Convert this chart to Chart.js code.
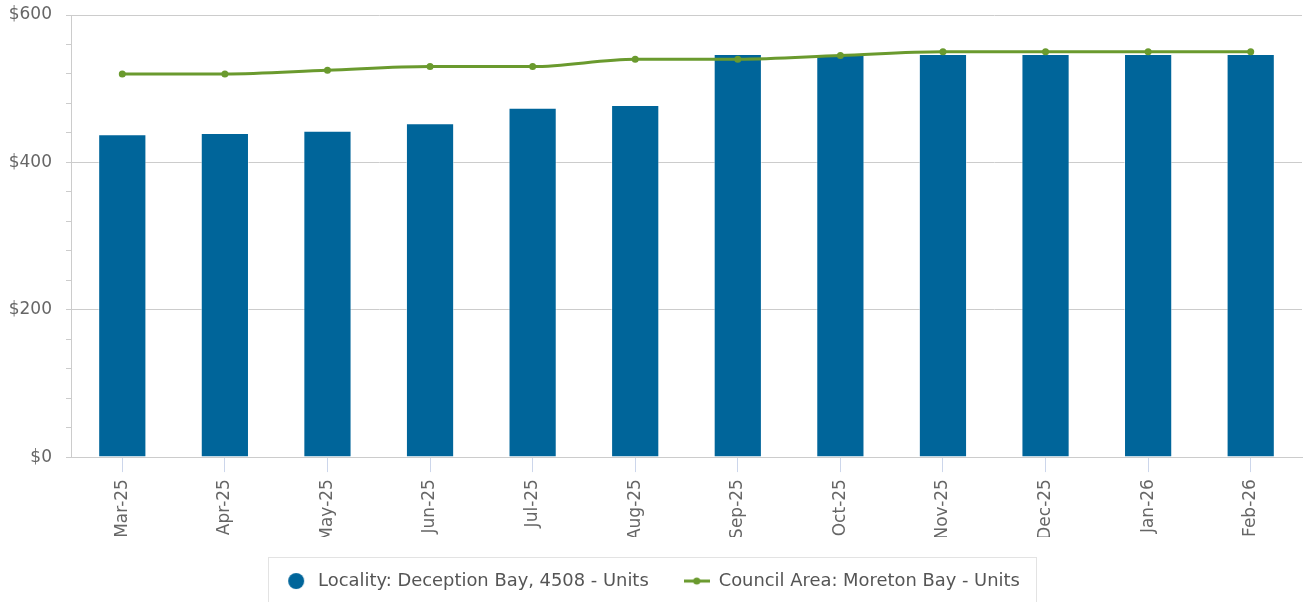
<!DOCTYPE html>
<html>
<head>
<meta charset="utf-8">
<script src="https://cdn.jsdelivr.net/npm/chart.js@4.4.1/dist/chart.umd.min.js"></script>
<style>
  html, body { margin: 0; padding: 0; background: #fff; overflow: hidden; }
  #wrap { width: 1306px; height: 602px; }
</style>
</head>
<body>
<div id="wrap"><canvas id="rentChart" width="1306" height="602"></canvas></div>
<script>
const months = ["Mar-25", "Apr-25", "May-25", "Jun-25", "Jul-25", "Aug-25",
  "Sep-25", "Oct-25", "Nov-25", "Dec-25", "Jan-26", "Feb-26"];
const localityUnits = [438, 440, 443, 453, 474, 478, 547, 547, 547, 547, 547, 547];
const councilUnits = [520, 520, 525, 530, 530, 540, 540, 545, 550, 550, 550, 550];
const yMin = 0;
const yMax = 600;
const yStep = 40;       // minor tick marks
const yLabelStep = 200; // labelled ticks + gridlines

const barColor = "#00659a";
const lineColor = "#6a9a2e";

Chart.defaults.font.family = "'DejaVu Sans', Verdana, sans-serif";

// legend markers
function circleMarker() {
  const c = document.createElement("canvas");
  c.width = 18; c.height = 18;
  const g = c.getContext("2d");
  g.fillStyle = barColor;
  g.beginPath();
  g.arc(9, 9, 8, 0, Math.PI * 2);
  g.fill();
  return c;
}
function lineMarker() {
  const c = document.createElement("canvas");
  c.width = 26; c.height = 10;
  const g = c.getContext("2d");
  g.strokeStyle = lineColor;
  g.lineWidth = 3;
  g.beginPath();
  g.moveTo(0, 5); g.lineTo(26, 5);
  g.stroke();
  g.fillStyle = lineColor;
  g.beginPath();
  g.arc(13, 5, 3.5, 0, Math.PI * 2);
  g.fill();
  return c;
}
const markers = [circleMarker(), lineMarker()];

const legendFrame = {
  id: "legendFrame",
  afterDraw(chart) {
    const boxes = chart.legend.legendHitBoxes;
    if (!boxes || !boxes.length) return;
    const first = boxes[0], last = boxes[boxes.length - 1];
    const x0 = Math.round(first.left - 15) + 0.5;
    const x1 = Math.round(last.left + last.width + 16) + 0.5;
    const y0 = Math.round(first.top - 15) + 0.5;
    const ctx = chart.ctx;
    ctx.save();
    ctx.strokeStyle = "#e3e3e3";
    ctx.lineWidth = 1;
    ctx.strokeRect(x0, y0, x1 - x0, 60);
    ctx.restore();
  }
};

new Chart(document.getElementById("rentChart"), {
  type: "bar",
  data: {
    labels: months,
    datasets: [
      {
        type: "bar",
        label: "Locality: Deception Bay, 4508 - Units",
        data: localityUnits,
        backgroundColor: barColor,
        borderColor: "rgba(255,255,255,0.5)",
        borderWidth: 1,
        barPercentage: 0.47,
        categoryPercentage: 1,
        order: 2,
      },
      {
        type: "line",
        label: "Council Area: Moreton Bay - Units",
        data: councilUnits,
        borderColor: lineColor,
        backgroundColor: lineColor,
        borderWidth: 3,
        pointRadius: 3.5,
        pointBackgroundColor: lineColor,
        pointBorderWidth: 0,
        cubicInterpolationMode: "monotone",
        fill: false,
        order: 1,
      },
    ],
  },
  options: {
    responsive: false,
    animation: false,
    layout: { padding: { top: 15, right: 3, bottom: 2, left: 0 } },
    plugins: {
      tooltip: { enabled: false },
      legend: {
        position: "bottom",
        labels: {
          usePointStyle: true,
          pointStyleWidth: 26,
          padding: 35,
          color: "#555",
          font: { size: 17.9 },
          generateLabels(chart) {
            return chart.data.datasets.map((ds, i) => ({
              text: ds.label,
              pointStyle: markers[i],
              fillStyle: i === 0 ? barColor : lineColor,
              strokeStyle: "transparent",
              lineWidth: 0,
              hidden: false,
              datasetIndex: i,
              fontColor: "#555",
            }));
          },
        },
      },
    },
    scales: {
      x: {
        offset: true,
        grid: {
          offset: false,
          drawOnChartArea: false,
          tickLength: 15,
          tickColor: "#ccd6eb",
        },
        border: { color: "#cccccc" },
        ticks: {
          minRotation: 90,
          maxRotation: 90,
          autoSkip: false,
          padding: 7,
          color: "#666",
          font: { size: 17 },
        },
        afterFit(scale) { scale.height = 80; },
      },
      y: {
        min: yMin,
        max: yMax,
        grid: {
          color: (c) => (c.tick && c.tick.value % yLabelStep === 0 ? "#cccccc" : "rgba(0,0,0,0)"),
          tickColor: "#cccccc",
          tickLength: 5,
        },
        border: { color: "#cccccc" },
        ticks: {
          stepSize: yStep,
          autoSkip: false,
          padding: 14,
          color: "#666",
          font: { size: 17 },
          callback: (v) => (v % yLabelStep === 0 ? "$" + v : ""),
        },
        afterFit(scale) {
          scale.width = 71;
          scale.paddingTop = 0;
          scale.paddingBottom = 0;
        },
      },
    },
  },
  plugins: [legendFrame],
});
</script>
</body>
</html>
